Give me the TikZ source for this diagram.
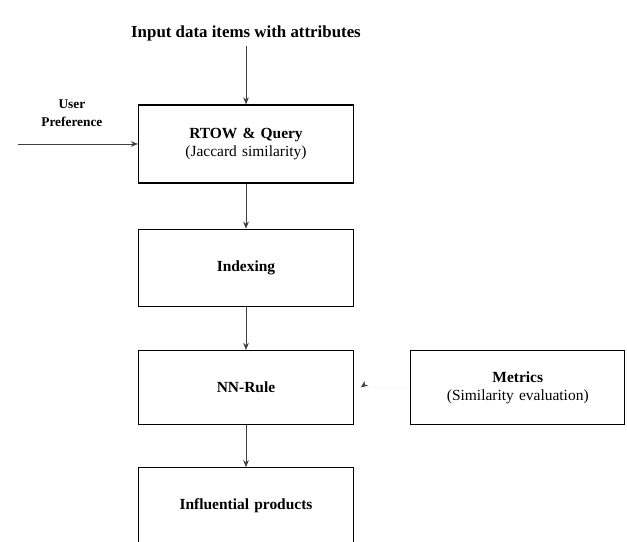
\documentclass[tikz,border=0pt]{standalone}
\usepackage{fontspec}
\setmainfont{Liberation Serif}
\usepackage{tikz}
\usetikzlibrary{arrows.meta,positioning,calc}

\begin{document}
\begin{tikzpicture}[
  block/.style={draw, line width=0.9pt, text width=5.1cm, minimum width=5.375cm, minimum height=1.9cm, align=center, font=\fontsize{11}{13}\selectfont, inner sep=0pt},
  arr/.style={-{Stealth[length=5pt,width=4pt]}, thin, black!75}
]
  \useasboundingbox (0,0) rectangle (15.675,-13.55);

  \node[block, minimum height=1.95cm] (rtow) at (6.15,-3.6) {\textbf{RTOW \& Query}\\(Jaccard similarity)};
  \node[block, minimum height=1.925cm, below=1.125cm of rtow] (idx) {\textbf{Indexing}};
  \node[block, minimum height=1.85cm, below=1.075cm of idx] (nn) {\textbf{NN-Rule}};
  \node[block, below=1.05cm of nn] (infl) {\textbf{Influential products}};
  \node[block, minimum width=5.35cm, minimum height=1.85cm, right=1.4cm of nn] (metrics) {\textbf{Metrics}\\(Similarity evaluation)};

  \node[above=1.45cm of rtow, font=\fontsize{12}{14}\selectfont\bfseries] (input) {Input data items with attributes};
  \coordinate[left=3cm of rtow.west] (usr);
  \node[above=0.3cm of $(usr)!0.45!(rtow.west)$, align=center, font=\fontsize{9.5}{13}\selectfont\bfseries] (pref) {User\\Preference};

  \draw[arr] (input) -- (rtow);
  \draw[arr] (usr) -- (rtow.west);
  \draw[arr] (rtow) -- (idx);
  \draw[arr] (idx) -- (nn);
  \draw[arr] (nn) -- (infl);
  % only the tip is visible in the source
  \draw[-{Stealth[length=5pt,width=4pt]}, black!3, shorten >=6pt] (metrics.west) -- (nn.east);
  \path (metrics.west) -- (nn.east) coordinate[pos=0.88] (tipend);
  \draw[arr] ($(tipend)+(0.05,0.04)$) -- (tipend);
\end{tikzpicture}
\end{document}
